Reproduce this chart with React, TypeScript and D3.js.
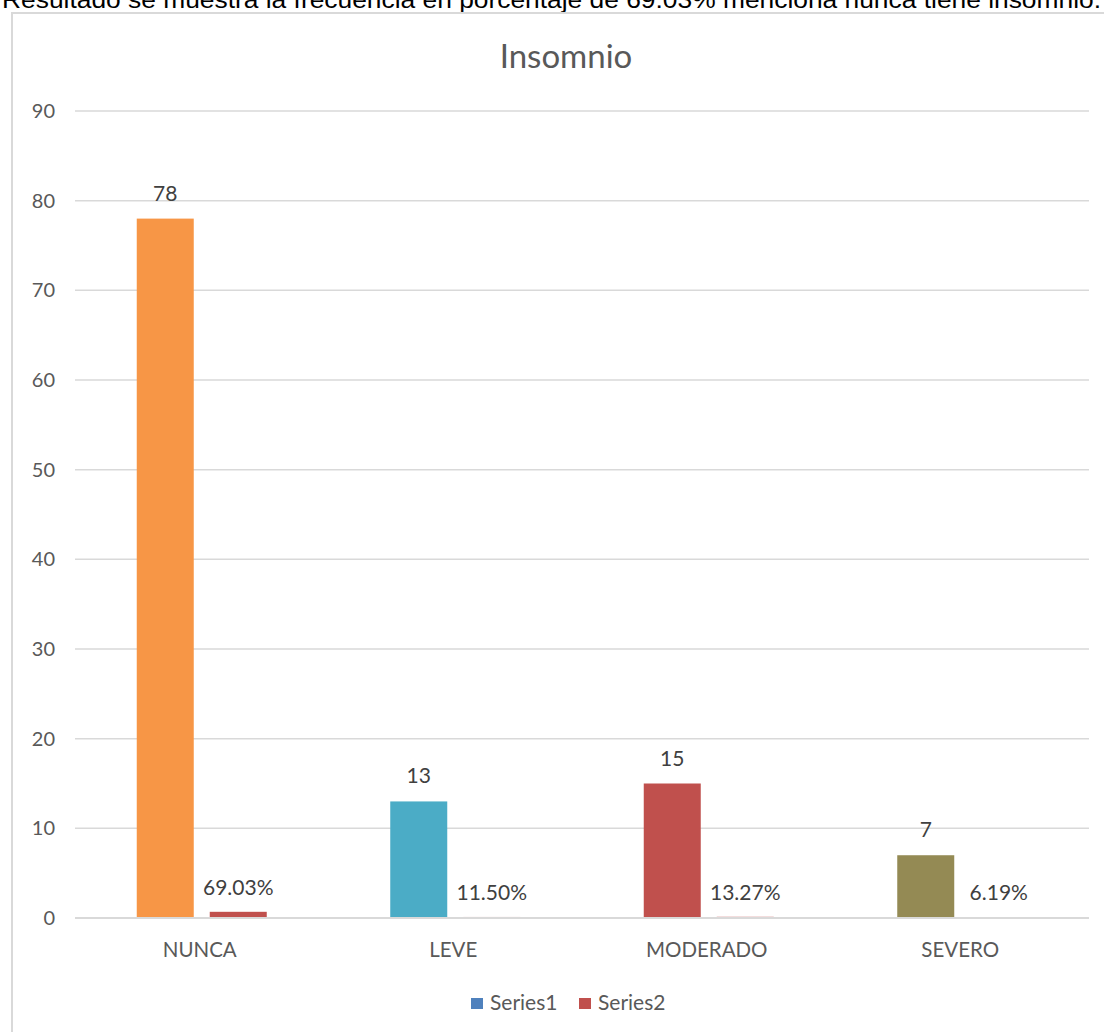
import React from "react";
import * as d3 from "d3";

const categories = ["NUNCA", "LEVE", "MODERADO", "SEVERO"];
const series1 = [78, 13, 15, 7];
const series2 = [0.6903, 0.115, 0.1327, 0.0619];
const series2Labels = ["69.03%", "11.50%", "13.27%", "6.19%"];
const series1Colors = ["#F79646", "#4BACC6", "#C0504D", "#948A54"];
const yTicks = [0, 10, 20, 30, 40, 50, 60, 70, 80, 90];
const legendItems = [
  { name: "Series1", color: "#4F81BD" },
  { name: "Series2", color: "#C0504D" },
];
const caption =
  "Resultado se muestra la frecuencia en porcentaje de 69.03% menciona nunca tiene insomnio.";

export default function App() {
  const W = 1104;
  const H = 1032;
  const y = d3.scaleLinear().domain([0, 90]).range([918, 111]);
  const x = d3.scaleBand<string>().domain(categories).range([75, 1089]).padding(0);
  const groupW = 130;
  const inner = d3.scaleBand<string>().domain(["s1", "s2"]).range([0, groupW]).paddingInner(16 / 73);
  const font = "Lato, 'Open Sans', sans-serif";
  const groupStart = (c: string) => (x(c) as number) + x.bandwidth() / 2 - groupW / 2;

  return (
    <svg width={W} height={H} style={{ position: "absolute", left: 0, top: 0, background: "#fff" }}>
      <rect x={0} y={0} width={W} height={H} fill="#fff" />
      <text
        x={2}
        y={8}
        fontFamily="'Liberation Sans', Arial, sans-serif"
        fontSize={24}
        fill="#000"
        textLength={1099}
        lengthAdjust="spacingAndGlyphs"
      >
        {caption}
      </text>
      <rect x={12} y={13} width={1200} height={1100} fill="none" stroke="#d9d9d9" strokeWidth={2} />
      <text x={566} y={68} textAnchor="middle" fontFamily={font} fontSize={33} fill="#595959">
        Insomnio
      </text>
      {yTicks.map((t) => (
        <g key={t}>
          {t !== 0 && (
            <line x1={75} x2={1089} y1={y(t)} y2={y(t)} stroke="#d9d9d9" strokeWidth={1.5} />
          )}
          <text x={55} y={y(t) + 7} textAnchor="end" fontFamily={font} fontSize={20} fill="#595959">
            {t}
          </text>
        </g>
      ))}
      {categories.map((c, i) => {
        const gs = groupStart(c);
        const x1 = gs + (inner("s1") as number);
        const x2 = gs + (inner("s2") as number);
        const bw = inner.bandwidth();
        return (
          <g key={c}>
            <rect x={x1} y={y(series1[i])} width={bw} height={y(0) - y(series1[i])} fill={series1Colors[i]} />
            <rect x={x2} y={y(series2[i])} width={bw} height={y(0) - y(series2[i])} fill="#C0504D" />
            <text x={x1 + bw / 2} y={y(series1[i]) - 18} textAnchor="middle" fontFamily={font} fontSize={21} fill="#404040">
              {series1[i]}
            </text>
            <text x={x2 + bw / 2} y={y(series2[i]) - 17} textAnchor="middle" fontFamily={font} fontSize={21} fill="#404040">
              {series2Labels[i]}
            </text>
            <text x={(x(c) as number) + x.bandwidth() / 2 - 2} y={957} textAnchor="middle" fontFamily={font} fontSize={20.5} fill="#595959">
              {c}
            </text>
          </g>
        );
      })}
      <line x1={75} x2={1089} y1={y(0)} y2={y(0)} stroke="#d9d9d9" strokeWidth={2} />
      {legendItems.map((l, i) => {
        const lx = 471 + i * 108;
        return (
          <g key={l.name}>
            <rect x={lx} y={998} width={12} height={11} fill={l.color} />
            <text x={lx + 19} y={1010} fontFamily={font} fontSize={21} fill="#595959">
              {l.name}
            </text>
          </g>
        );
      })}
    </svg>
  );
}
